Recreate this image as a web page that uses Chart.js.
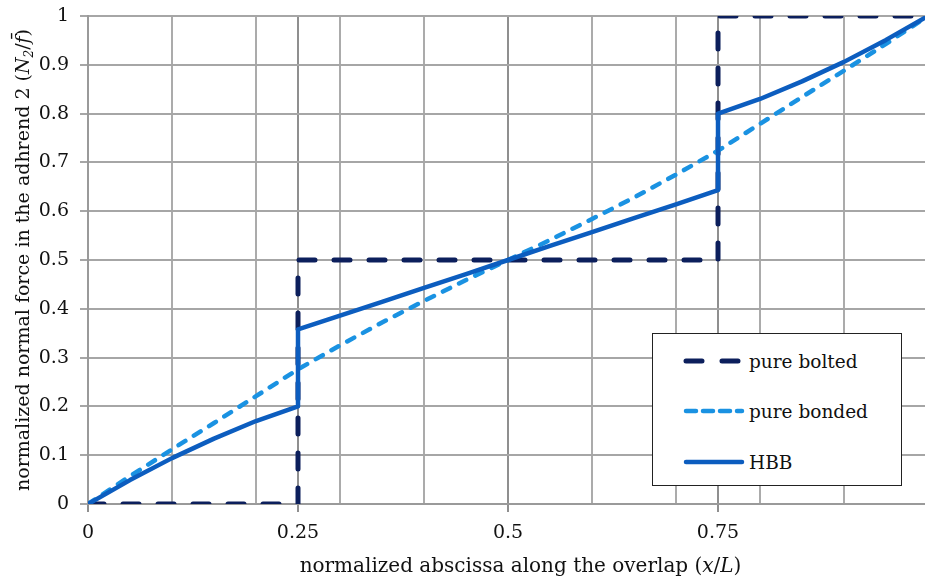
<!DOCTYPE html>
<html>
<head>
<meta charset="utf-8">
<title>Normal force in adherend 2</title>
<script src="https://cdn.jsdelivr.net/npm/chart.js@4.4.1/dist/chart.umd.min.js"></script>
<style>
  body { margin: 0; background: #fff; }
  #wrap { position: relative; width: 925px; height: 579px; }
  #legend {
    position: absolute; left: 652px; top: 333px; width: 248px; height: 151px;
    background: #fff; border: 1.5px solid #222;
    font-family: "DejaVu Serif", serif; font-size: 18.5px; color: #111;
  }
  .row { position: absolute; left: 0; height: 24px; display: flex; align-items: center; }
  .row svg { margin-left: 30px; margin-right: 4px; }
</style>
</head>
<body>
<div id="wrap">
  <canvas id="myChart" width="925" height="579"></canvas>
  <div id="legend"></div>
</div>
<script>
// ---- data ----
const boltedX = [0, 0.25, 0.25, 0.75, 0.75, 1];
const boltedY = [0, 0, 0.5, 0.5, 1, 1];

const bondedX = [0, 0.05, 0.1, 0.15, 0.2, 0.25, 0.3, 0.35, 0.4, 0.45, 0.5, 0.55, 0.6, 0.65, 0.7, 0.75, 0.8, 0.85, 0.9, 0.95, 1];
const bondedY = [0, 0.057, 0.112, 0.166, 0.221, 0.276, 0.325, 0.372, 0.416, 0.459, 0.5, 0.541, 0.584, 0.628, 0.675, 0.724, 0.779, 0.834, 0.888, 0.943, 1];

const hbbX = [0, 0.05, 0.1, 0.15, 0.2, 0.25, 0.25, 0.3, 0.35, 0.4, 0.45, 0.5, 0.55, 0.6, 0.65, 0.7, 0.75, 0.75, 0.8, 0.85, 0.9, 0.95, 1];
const hbbY = [0, 0.049, 0.094, 0.134, 0.17, 0.2, 0.358, 0.386, 0.414, 0.443, 0.471, 0.5, 0.529, 0.557, 0.586, 0.614, 0.643, 0.8, 0.83, 0.866, 0.906, 0.951, 1];

const xGridTicks = [0, 0.1, 0.2, 0.25, 0.3, 0.4, 0.5, 0.6, 0.7, 0.75, 0.8, 0.9];
const xLabelTicks = [0, 0.25, 0.5, 0.75];

const seriesNames = ["pure bolted", "pure bonded", "HBB"];
const seriesColors = ["#0c1f5c", "#1a92e2", "#0c5dbf"];

const FONT = "DejaVu Serif";
const TEXT = "#111";

function pts(xs, ys) {
  return xs.map((x, i) => ({ x: x, y: ys[i] }));
}

const datasets = [
  { label: seriesNames[0], data: pts(boltedX, boltedY), borderColor: seriesColors[0],
    borderWidth: 5, borderDash: [16, 19], borderCapStyle: "round", order: 2 },
  { label: seriesNames[1], data: pts(bondedX, bondedY), borderColor: seriesColors[1],
    borderWidth: 4.5, borderDash: [8, 10], borderCapStyle: "round", order: 1 },
  { label: seriesNames[2], data: pts(hbbX, hbbY), borderColor: seriesColors[2],
    borderWidth: 4.5, borderCapStyle: "round", borderJoinStyle: "round", order: 0 },
];
datasets.forEach(d => { d.pointRadius = 0; d.tension = 0; d.fill = false; });

// axis titles with italic parts, drawn on the canvas
function drawRuns(ctx, runs, cx, cy, size) {
  let total = 0;
  const f = r => (r.italic ? "italic " : "") + (r.sub ? Math.round(size * 0.65) : size) + "px " + FONT;
  runs.forEach(r => {
    ctx.font = f(r);
    r.w = ctx.measureText(r.t).width;
    total += r.w;
  });
  let x = cx - total / 2;
  ctx.textAlign = "left";
  ctx.textBaseline = "alphabetic";
  runs.forEach(r => {
    ctx.font = f(r);
    ctx.fillText(r.t, x, cy + (r.sub ? 4 : 0));
    x += r.w;
  });
}

const axisTitles = {
  id: "axisTitles",
  afterDraw(chart) {
    const ctx = chart.ctx;
    const a = chart.chartArea;
    ctx.save();
    ctx.fillStyle = TEXT;
    drawRuns(ctx, [
      { t: "normalized abscissa along the overlap (" },
      { t: "x", italic: true }, { t: "/" }, { t: "L", italic: true }, { t: ")" }
    ], (a.left + a.right) / 2 + 14, 572, 20);
    ctx.translate(29, (a.top + a.bottom) / 2);
    ctx.rotate(-Math.PI / 2);
    drawRuns(ctx, [
      { t: "normalized normal force in the adhrend 2 (" },
      { t: "N", italic: true }, { t: "2", italic: true, sub: true },
      { t: "/" }, { t: "f\u0304", italic: true }, { t: ")" }
    ], 0, 0, 19);
    ctx.restore();
  }
};

new Chart(document.getElementById("myChart"), {
  type: "line",
  data: { datasets: datasets },
  options: {
    responsive: false,
    animation: false,
    layout: { padding: { top: 16, right: 0, left: 0, bottom: 0 } },
    plugins: { legend: { display: false }, tooltip: { enabled: false } },
    scales: {
      x: {
        type: "linear", min: 0, max: 0.9964,
        afterBuildTicks: s => { s.ticks = xGridTicks.map(v => ({ value: v })); },
        afterFit: s => { s.height = 75; s.paddingLeft = 0; s.paddingRight = 0; },
        ticks: {
          autoSkip: false, maxRotation: 0, padding: 10, color: TEXT,
          font: { family: FONT, size: 19 },
          callback: v => xLabelTicks.includes(v) ? String(v) : ""
        },
        grid: {
          lineWidth: 2, tickLength: 8,
          color: c => xLabelTicks.includes(c.tick && c.tick.value) ? "#8f8f8f" : "#ababab",
          tickColor: c => xLabelTicks.includes(c.tick && c.tick.value) ? "#8f8f8f" : "rgba(0,0,0,0)"
        },
        border: { color: "#9a9a9a", width: 2 }
      },
      y: {
        min: 0, max: 1,
        afterFit: s => { s.width = 88; s.paddingTop = 0; s.paddingBottom = 0; },
        ticks: {
          stepSize: 0.1, padding: 11, color: TEXT,
          font: { family: FONT, size: 19 },
          callback: v => String(+v.toFixed(2))
        },
        grid: { lineWidth: 2, tickLength: 8, color: "#a6a6a6", tickColor: "#a6a6a6" },
        border: { color: "#9a9a9a", width: 2 }
      }
    }
  },
  plugins: [axisTitles]
});

// legend box
const legend = document.getElementById("legend");
const rowTops = [15, 65, 116];
datasets.forEach((d, i) => {
  const row = document.createElement("div");
  row.className = "row";
  row.style.top = rowTops[i] + "px";
  const dash = d.borderDash ? (i === 0 ? "16 20" : "10 7") : "none";
  row.innerHTML =
    '<svg width="62" height="10"><line x1="3" y1="5" x2="59" y2="5" stroke="' + d.borderColor +
    '" stroke-width="' + d.borderWidth + '" stroke-linecap="round" stroke-dasharray="' + dash + '"/></svg>' +
    "<span>" + d.label + "</span>";
  legend.appendChild(row);
});
</script>
</body>
</html>
